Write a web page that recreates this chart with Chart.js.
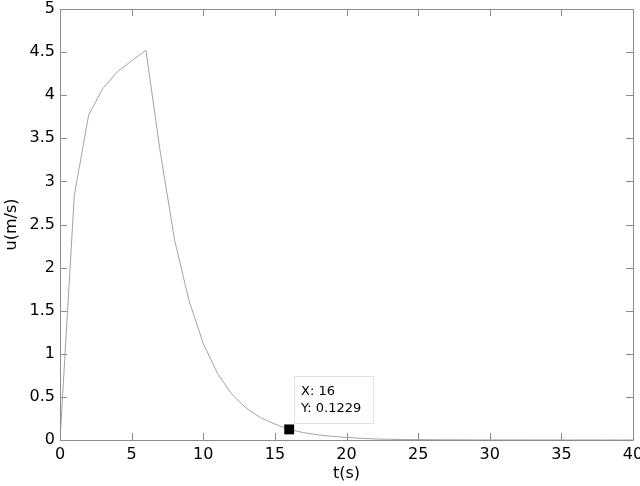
<!DOCTYPE html>
<html>
<head>
<meta charset="utf-8">
<script src="https://cdn.jsdelivr.net/npm/chart.js@4"></script>
<style>
  html, body { margin: 0; padding: 0; background: #fff; }
  #wrap { width: 640px; height: 486px; }
</style>
</head>
<body>
<div id="wrap"><canvas id="chart" width="640" height="486"></canvas></div>
<script>
// sampled response, one point per second
const timeSteps = [0, 1, 2, 3, 4, 5, 6, 7, 8, 9, 10, 11, 12, 13, 14, 15, 16, 17, 18, 19, 20,
                   21, 22, 23, 24, 25, 26, 27, 28, 29, 30, 31, 32, 33, 34, 35, 36, 37, 38, 39, 40];
const velocity = [0, 2.84, 3.77, 4.08, 4.27, 4.40, 4.52, 3.34, 2.32, 1.62, 1.12, 0.77, 0.53, 0.37, 0.26, 0.185, 0.1229,
                  0.085, 0.06, 0.042, 0.03, 0.02, 0.012, 0.008, 0.005, 0.004, 0.003, 0.002, 0.002, 0.001, 0.001,
                  0.001, 0.001, 0, 0, 0, 0, 0, 0, 0, 0];

// data tip
const tipTime = [16];
const tipVelocity = [0.1229];

const xTicks = [0, 5, 10, 15, 20, 25, 30, 35, 40];
const yTicks = [0, 0.5, 1, 1.5, 2, 2.5, 3, 3.5, 4, 4.5, 5];

const axisColor = '#8c8c8c';
const lineColor = '#a3a3a3';
const fontFamily = '"DejaVu Sans", Arial, sans-serif';

// box with inward ticks, matlab style
const framePlugin = {
    id: 'frame',
    afterDatasetsDraw(chart) {
        const ctx = chart.ctx;
        const a = chart.chartArea;
        const xs = chart.scales.x, ys = chart.scales.y;
        const tl = 7;
        ctx.save();
        ctx.strokeStyle = axisColor;
        ctx.lineWidth = 1;
        ctx.beginPath();
        ctx.rect(Math.round(a.left) + 0.5, Math.round(a.top) + 0.5,
                 Math.round(a.right - a.left), Math.round(a.bottom - a.top));
        xTicks.forEach(function(v) {
            const px = Math.round(xs.getPixelForValue(v)) + 0.5;
            ctx.moveTo(px, a.bottom);
            ctx.lineTo(px, a.bottom - tl);
            ctx.moveTo(px, a.top);
            ctx.lineTo(px, a.top + tl);
        });
        yTicks.forEach(function(v) {
            const py = Math.round(ys.getPixelForValue(v)) + 0.5;
            ctx.moveTo(a.left, py);
            ctx.lineTo(a.left + tl, py);
            ctx.moveTo(a.right, py);
            ctx.lineTo(a.right - tl, py);
        });
        ctx.stroke();
        ctx.restore();
    },
    afterDraw(chart) {
        const ctx = chart.ctx;
        const px = chart.scales.x.getPixelForValue(tipTime[0]);
        const py = chart.scales.y.getPixelForValue(tipVelocity[0]);
        const bx = Math.round(px + 5), by = Math.round(py - 53);
        ctx.save();
        ctx.fillStyle = '#ffffff';
        ctx.fillRect(bx, by, 79, 47);
        ctx.strokeStyle = '#e2e2e2';
        ctx.strokeRect(bx + 0.5, by + 0.5, 79, 47);
        ctx.fillStyle = '#000';
        ctx.font = '13px ' + fontFamily;
        ctx.textBaseline = 'alphabetic';
        ctx.fillText('X: ' + tipTime[0], bx + 7, by + 19);
        ctx.fillText('Y: ' + tipVelocity[0], bx + 7, by + 36);
        ctx.restore();
    }
};

const ctx = document.getElementById('chart').getContext('2d');
const chart = new Chart(ctx, {
    type: 'scatter',
    data: {
        datasets: [
            {
                label: 'tip',
                data: tipTime.map((t, i) => ({ x: t, y: tipVelocity[i] })),
                pointStyle: 'rect',
                pointRadius: 7,
                backgroundColor: '#000',
                borderColor: '#000',
                borderWidth: 0
            },
            {
                label: 'u',
                data: timeSteps.map((t, i) => ({ x: t, y: velocity[i] })),
                showLine: true,
                borderColor: lineColor,
                borderWidth: 1,
                pointRadius: 0,
                tension: 0
            }
        ]
    },
    options: {
        responsive: false,
        animation: false,
        layout: { padding: { left: 0, top: 9, right: 7, bottom: 0 } },
        plugins: {
            legend: { display: false },
            tooltip: { enabled: false }
        },
        scales: {
            x: {
                type: 'linear',
                min: 0,
                max: 40,
                afterBuildTicks: scale => { scale.ticks = xTicks.map(v => ({ value: v })); },
                afterFit: scale => { scale.height = 46; scale.paddingLeft = 0; scale.paddingRight = 0; },
                grid: { display: false, drawTicks: false },
                border: { display: false },
                ticks: {
                    color: '#000',
                    padding: 5,
                    maxRotation: 0,
                    autoSkip: false,
                    font: { family: fontFamily, size: 16 },
                    callback: v => String(v)
                },
                title: {
                    display: true,
                    text: 't(s)',
                    color: '#000',
                    padding: { top: 0, bottom: 3 },
                    font: { family: fontFamily, size: 16 }
                }
            },
            y: {
                type: 'linear',
                min: 0,
                max: 5,
                afterBuildTicks: scale => { scale.ticks = yTicks.map(v => ({ value: v })); },
                afterFit: scale => { scale.width = 60; scale.paddingTop = 0; scale.paddingBottom = 0; },
                grid: { display: false, drawTicks: false },
                border: { display: false },
                ticks: {
                    color: '#000',
                    padding: 5,
                    autoSkip: false,
                    font: { family: fontFamily, size: 16 },
                    callback: v => String(v)
                },
                title: {
                    display: true,
                    text: 'u(m/s)',
                    color: '#000',
                    padding: { top: 2, bottom: 0 },
                    font: { family: fontFamily, size: 16 }
                }
            }
        }
    },
    plugins: [framePlugin]
});
</script>
</body>
</html>
